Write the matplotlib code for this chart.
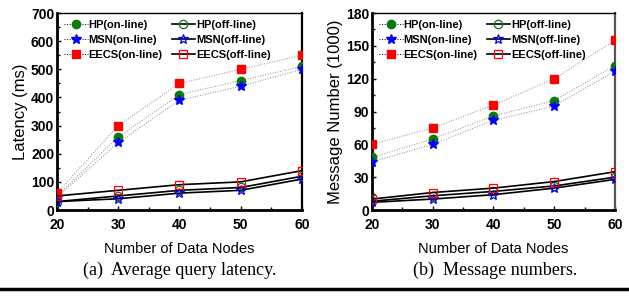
import matplotlib.pyplot as plt
from matplotlib.ticker import MultipleLocator

nodes = [20, 30, 40, 50, 60]

# (a) average query latency, ms
lat_hp_on = [50, 260, 410, 460, 510]
lat_msn_on = [45, 240, 390, 440, 500]
lat_eecs_on = [60, 300, 450, 500, 550]
lat_hp_off = [30, 50, 70, 80, 120]
lat_msn_off = [30, 40, 60, 70, 110]
lat_eecs_off = [50, 70, 90, 100, 140]

# (b) message numbers, x1000
msg_hp_on = [48, 65, 86, 100, 132]
msg_msn_on = [44, 60, 82, 95, 127]
msg_eecs_on = [60, 75, 96, 120, 155]
msg_hp_off = [8, 13, 17, 22, 30]
msg_msn_off = [7, 10, 14, 20, 28]
msg_eecs_off = [10, 16, 20, 26, 35]

STYLE = {"HP": ("o", "#0a7a0a"), "MSN": ("*", "#0000ff"), "EECS": ("s", "#ff0000")}
SANS = "Liberation Sans"


def panel(ax, on, off, ymax, ystep, ylabel, right_col):
    handles = []
    for name in ["HP", "MSN", "EECS"]:
        mk, c = STYLE[name]
        ms = 7.5 if mk == "*" else 6
        h1, = ax.plot(nodes, on[name], ":", color="#888", lw=0.7, marker=mk, ms=ms,
                      mfc=c, mec=c, label=f"{name}(on-line)", zorder=3)
        h2, = ax.plot(nodes, off[name], "-", color="black", lw=1.2, marker=mk, ms=ms,
                      mfc="none", mec=c, mew=0.9, label=f"{name}(off-line)", zorder=3)
        handles.append((h1, h2))
    order = [h[0] for h in handles] + [h[1] for h in handles]
    leg = ax.legend(handles=order, ncol=2, loc="upper left", frameon=False,
                    prop={"family": SANS, "weight": "bold", "size": 8},
                    handlelength=2.1, handletextpad=0.1, columnspacing=0.8,
                    labelspacing=0.42, borderaxespad=0.25)
    for lh in leg.get_lines():
        lh.set_color("black")
    ax.set_xlim(20, 60)
    ax.set_ylim(0, ymax)
    ax.xaxis.set_major_locator(MultipleLocator(10))
    ax.xaxis.set_minor_locator(MultipleLocator(5))
    ax.yaxis.set_major_locator(MultipleLocator(ystep))
    ax.yaxis.set_minor_locator(MultipleLocator(ystep / 2))
    ax.tick_params(which="both", direction="in", length=3, width=1,
                   top=False, right=False)
    ax.tick_params(axis="x", pad=6)
    ax.tick_params(axis="y", pad=2)
    ax.tick_params(which="minor", length=2)
    for lab in ax.get_xticklabels() + ax.get_yticklabels():
        lab.set_family(SANS)
        lab.set_weight("bold")
        lab.set_fontsize(10)
    ax.set_xlabel("Number of Data Nodes", family=SANS, fontsize=10.5, labelpad=7)
    ax.set_ylabel(ylabel, family=SANS, fontsize=12, labelpad=2)
    ax.spines["left"].set_linewidth(2)
    ax.spines["bottom"].set_linewidth(2)
    ax.spines["top"].set_linewidth(1)
    ax.spines["right"].set_linewidth(1.6)
    ax.spines["right"].set_color(right_col)


fig = plt.figure(figsize=(6.29, 2.96), dpi=100)
ax1 = fig.add_axes([0.0906, 0.2905, 0.3895, 0.6655])
ax2 = fig.add_axes([0.5914, 0.2905, 0.3863, 0.6655])

panel(ax1, {"HP": lat_hp_on, "MSN": lat_msn_on, "EECS": lat_eecs_on},
      {"HP": lat_hp_off, "MSN": lat_msn_off, "EECS": lat_eecs_off},
      700, 100, "Latency (ms)", "black")
panel(ax2, {"HP": msg_hp_on, "MSN": msg_msn_on, "EECS": msg_eecs_on},
      {"HP": msg_hp_off, "MSN": msg_msn_off, "EECS": msg_eecs_off},
      180, 30, "Message Number (1000)", "#555555")

fig.text(0.285, 0.087, "(a)  Average query latency.", ha="center", va="center",
         family="Liberation Serif", fontsize=13)
fig.text(0.787, 0.087, "(b)  Message numbers.", ha="center", va="center",
         family="Liberation Serif", fontsize=13)
fig.add_artist(plt.Line2D([0, 1], [0.022, 0.022], color="black", lw=2.5,
                          transform=fig.transFigure))

fig.savefig("out.png", dpi=100)
